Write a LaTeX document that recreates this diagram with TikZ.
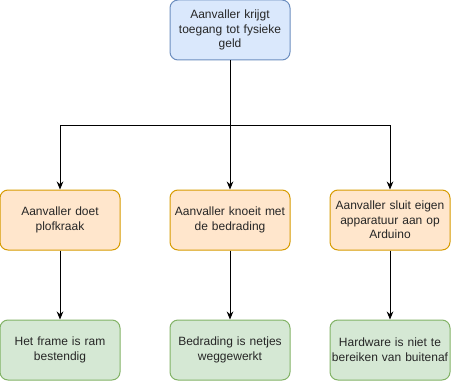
\documentclass[tikz,border=0pt]{standalone}
\usepackage{fontspec}
\setmainfont{Liberation Sans}
\usetikzlibrary{arrows.meta}
\definecolor{blauwvul}{HTML}{DAE8FC}
\definecolor{blauwrand}{HTML}{6C8EBF}
\definecolor{oranjevul}{HTML}{FFE6CC}
\definecolor{oranjerand}{HTML}{D79B00}
\definecolor{groenvul}{HTML}{D5E8D4}
\definecolor{groenrand}{HTML}{82B366}
\begin{document}
\begin{tikzpicture}[x=0.75pt,y=-0.75pt,
		blok/.style={rectangle, rounded corners=6pt, line width=0.75pt, minimum width=90pt, minimum height=45pt, inner sep=0pt, text width=88pt, align=center, font=\fontsize{9pt}{11pt}\selectfont, text=black!85},
		aanval/.style={blok, fill=blauwvul, draw=blauwrand},
		gevolg/.style={blok, fill=oranjevul, draw=oranjerand},
		maatregel/.style={blok, fill=groenvul, draw=groenrand},
		pijl/.style={line width=0.75pt, -{Stealth[length=6pt,width=5pt]}}]
		\useasboundingbox (0,0) rectangle (452,381);
		%Doel
		\node[aanval] (doel) at (230,30) {Aanvaller krijgt\\toegang tot fysieke\\geld};
		%Aanvallen
		\node[gevolg] (kraak) at (60,220) {Aanvaller doet\\plofkraak};
		\node[gevolg] (knoei) at (230,220) {Aanvaller knoeit met\\de bedrading};
		\node[gevolg] (sluit) at (390,220) {Aanvaller sluit eigen\\apparatuur aan op\\Arduino};
		%Maatregelen
		\node[maatregel] (frame) at (60,350) {Het frame is ram\\bestendig};
		\node[maatregel] (draad) at (230,350) {Bedrading is netjes\\weggewerkt};
		\node[maatregel] (hardware) at (390,350) {Hardware is niet te\\bereiken van buitenaf};
		%Verbindingen
		\coordinate (split) at (230,125);
		\draw[line width=0.75pt] (doel) -- (split);
		\draw[pijl] (split) -| (kraak);
		\draw[pijl] (split) -- (knoei);
		\draw[pijl] (split) -| (sluit);
		\draw[pijl] (kraak) -- (frame);
		\draw[pijl] (knoei) -- (draad);
		\draw[pijl] (sluit) -- (hardware);
	\end{tikzpicture}
\end{document}
